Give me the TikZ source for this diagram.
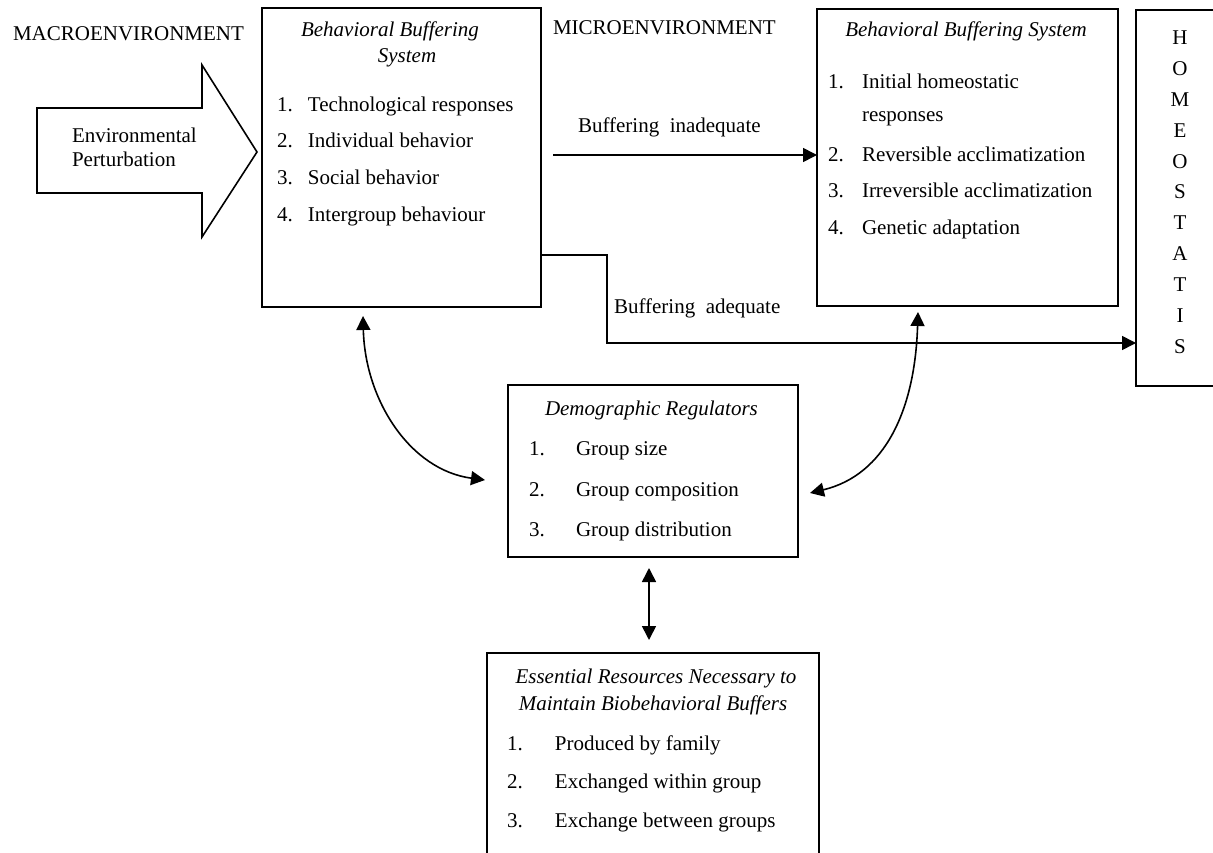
\documentclass[tikz,border=0pt]{standalone}
\usepackage{fontspec}
\setmainfont{Liberation Serif}
\usetikzlibrary{arrows.meta}
\newcommand\nitem[3]{\makebox[#1][l]{#2}#3}
\tikzset{
  box/.style={draw, line width=1.7pt, inner sep=0pt, outer sep=0pt, anchor=north west},
  txt/.style={inner sep=0pt, outer sep=0pt, font=\fontsize{21}{25}\selectfont},
  ttl/.style={inner sep=0pt, outer sep=0pt, font=\fontsize{21}{25}\selectfont\itshape},
  tip/.tip={Triangle[length=14pt,width=14pt]},
  conn/.style={line width=1.6pt, -tip},
  dconn/.style={line width=1.6pt, tip-tip},
}
\begin{document}
\begin{tikzpicture}[x=1pt,y=-1pt]
\clip (0,0) rectangle (1213,853);

% boxes
\node[box, minimum width=279pt, minimum height=299pt] (bbs1) at (262,8) {};
\node[box, minimum width=301pt, minimum height=297pt] (bbs2) at (817,9) {};
\node[box, minimum width=130pt, minimum height=376pt] (homeo) at (1136,10) {};
\node[box, minimum width=290pt, minimum height=172pt] (dem) at (508,385) {};
\node[box, minimum width=332pt, minimum height=260pt] (res) at (487,653) {};

% environmental perturbation arrow
\draw[line width=1.6pt, line join=miter]
  (37,108) -- (202,108) -- (202,65) -- (257,152) -- (202,237) -- (202,193) -- (37,193) -- cycle;
\node[txt, anchor=base west] (env1) at (72,143) {Environmental};
\node[txt, anchor=base west] (env2) at (72,167) {Perturbation};

% headings
\node[txt, anchor=base west] (macro) at (13,41) {MACROENVIRONMENT};
\node[txt, anchor=base west] (micro) at (553,35) {MICROENVIRONMENT};

% first buffering system
\node[ttl, anchor=base] (b1t1) at (390,37) {Behavioral Buffering};
\node[ttl, anchor=base] (b1t2) at (407,63) {System};
\node[txt, anchor=base west] (b1i1) at (277,112) {\nitem{31pt}{1.}{Technological responses}};
\node[txt, anchor=base west] (b1i2) at (277,148) {\nitem{31pt}{2.}{Individual behavior}};
\node[txt, anchor=base west] (b1i3) at (277,185) {\nitem{31pt}{3.}{Social behavior}};
\node[txt, anchor=base west] (b1i4) at (277,222) {\nitem{31pt}{4.}{Intergroup behaviour}};

% second buffering system
\node[ttl, anchor=base] (b2t) at (966,37) {Behavioral Buffering System};
\node[txt, anchor=base west] (b2i1) at (828,89) {\nitem{34pt}{1.}{Initial homeostatic}};
\node[txt, anchor=base west] (b2i1b) at (862,122) {responses};
\node[txt, anchor=base west] (b2i2) at (828,162) {\nitem{34pt}{2.}{Reversible acclimatization}};
\node[txt, anchor=base west] (b2i3) at (828,198) {\nitem{34pt}{3.}{Irreversible acclimatization}};
\node[txt, anchor=base west] (b2i4) at (828,235) {\nitem{34pt}{4.}{Genetic adaptation}};

% homeostatis, one letter per line
\foreach \l [count=\i] in {H,O,M,E,O,S,T,A,T,I,S}
  \node[txt, anchor=base] (h\i) at (1180,{45+30.8*(\i-1)}) {\l};

% demographic regulators
\node[ttl, anchor=base west] (demt) at (545,415) {Demographic Regulators};
\node[txt, anchor=base west] (d1) at (529,455) {\nitem{47pt}{1.}{Group size}};
\node[txt, anchor=base west] (d2) at (529,496) {\nitem{47pt}{2.}{Group composition}};
\node[txt, anchor=base west] (d3) at (529,536) {\nitem{47pt}{3.}{Group distribution}};

% essential resources
\node[ttl, anchor=base] (rt1) at (656,683) {Essential Resources Necessary to};
\node[ttl, anchor=base] (rt2) at (653,710) {Maintain Biobehavioral Buffers};
\node[txt, anchor=base west] (r1) at (507,750) {\nitem{48pt}{1.}{Produced by family}};
\node[txt, anchor=base west] (r2) at (507,788) {\nitem{48pt}{2.}{Exchanged within group}};
\node[txt, anchor=base west] (r3) at (507,827) {\nitem{48pt}{3.}{Exchange between groups}};

% buffering inadequate
\coordinate (inad) at (553,155);
\draw[conn] (inad) -- (inad -| bbs2.west);
\node[txt, anchor=base west] (inadl) at (578,133) {Buffering\ \ inadequate};

% buffering adequate
\coordinate (adqA) at (607,255);
\coordinate (adqB) at (607,343);
\draw[conn, line join=miter] (adqA -| bbs1.east) -- (adqA) -- (adqB) -- (adqB -| homeo.west);
\node[txt, anchor=base west] (adql) at (614,313) {Buffering\ \ adequate};

% links with the demographic regulators
\coordinate (lc1) at (363,316);
\coordinate (lc2) at (485,480);
\draw[dconn] (lc1) .. controls (365,400) and (410,470) .. (lc2);
\coordinate (rc1) at (918,312);
\coordinate (rc2) at (810,493);
\draw[dconn] (rc1) .. controls (915,410) and (885,475) .. (rc2);
\draw[dconn, shorten <=11pt, shorten >=13pt]
  ([xshift=-4pt]dem.south) -- ([xshift=-4pt]dem.south |- res.north);
\end{tikzpicture}
\end{document}
